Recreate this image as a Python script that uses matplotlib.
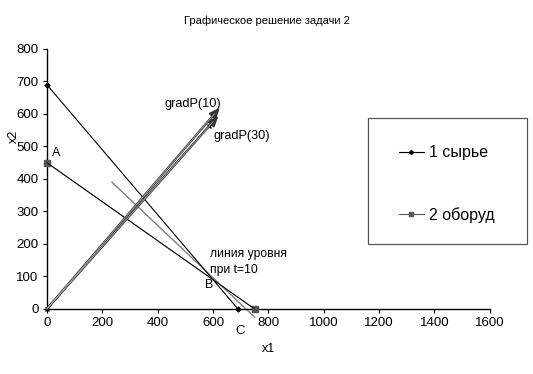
import matplotlib
matplotlib.use("Agg")
import matplotlib.pyplot as plt
from matplotlib.patches import Rectangle

# data
s1_x = [0, 690]
s1_y = [690, 0]
s2_x = [0, 750]
s2_y = [450, 0]
level_x = [235, 750]
level_y = [390, -25]
grad_x = [0, 585]
grad_y = [0, 563]
arrow10 = (625, 620)
arrow30 = (620, 595)
xticks = [0, 200, 400, 600, 800, 1000, 1200, 1400, 1600]
yticks = [0, 100, 200, 300, 400, 500, 600, 700, 800]

plt.rcParams['font.family'] = ['Liberation Sans', 'DejaVu Sans']
fig = plt.figure(figsize=(5.33, 3.74), dpi=100)
ax = fig.add_axes([0.088, 0.174, 0.831, 0.695])

l1, = ax.plot(s1_x, s1_y, color='black', lw=0.8, marker='D', ms=2.5, label='1 сырье', clip_on=False, zorder=3)
l2, = ax.plot(s2_x, s2_y, color='#555555', lw=0.8, marker='s', ms=4, mec='#555555', mfc='#555555',
              label='2 оборуд', clip_on=False, zorder=3)
ax.plot(s2_x, s2_y, color='black', lw=0.6, clip_on=False, zorder=3)
ax.plot(level_x, level_y, color='#808080', lw=1.0, clip_on=False, zorder=2)
ax.plot(grad_x, grad_y, color='black', lw=0.8, marker='x', ms=3, clip_on=False, zorder=3)

for tip in (arrow10, arrow30):
    ax.annotate('', xy=tip, xytext=(0, 0),
                arrowprops=dict(arrowstyle='-|>,head_length=0.6,head_width=0.25', color='#333333',
                                lw=1.6, shrinkA=0, shrinkB=0), zorder=4)
    ax.annotate('', xy=tip, xytext=(0, 0),
                arrowprops=dict(arrowstyle='-', color='#bbbbbb', lw=0.5, shrinkA=0, shrinkB=6), zorder=5)

ax.set_xlim(0, 1600)
ax.set_ylim(0, 800)
ax.set_xticks(xticks)
ax.set_yticks(yticks)
ax.tick_params(labelsize=9.5, length=3, width=0.8, direction='out', colors='black', pad=3)
for s in ('top', 'right'):
    ax.spines[s].set_visible(False)
for s in ('left', 'bottom'):
    ax.spines[s].set_linewidth(1.0)

ax.set_xlabel('x1', fontsize=9, labelpad=10)
ax.set_ylabel('x2', fontsize=9)
ax.yaxis.set_label_coords(-0.062, 0.665)

ax.text(18, 470, 'A', fontsize=9)
ax.text(572, 65, 'B', fontsize=9)
ax.text(682, -78, 'C', fontsize=9.5, clip_on=False)
ax.text(588, 160, 'линия уровня', fontsize=8.7)
ax.text(588, 110, 'при t=10', fontsize=8.7)
ax.text(423, 620, 'gradP(10)', fontsize=9.2)
ax.text(600, 522, 'gradP(30)', fontsize=9.2)

fig.text(0.5, 0.945, 'Графическое решение задачи 2', ha='center', va='center', fontsize=8)

fig.patches.append(Rectangle((0.690, 0.348), 0.299, 0.336, transform=fig.transFigure,
                             fill=False, edgecolor='#555555', lw=0.9))
leg = fig.legend(handles=[l1, l2], loc='center', bbox_to_anchor=(0.838, 0.508),
                 fontsize=11.5, labelspacing=2.9, borderpad=0.5, handlelength=1.6, handletextpad=0.3,
                 markerscale=0.8, frameon=False, borderaxespad=0)

fig.savefig('out.png', dpi=100)
